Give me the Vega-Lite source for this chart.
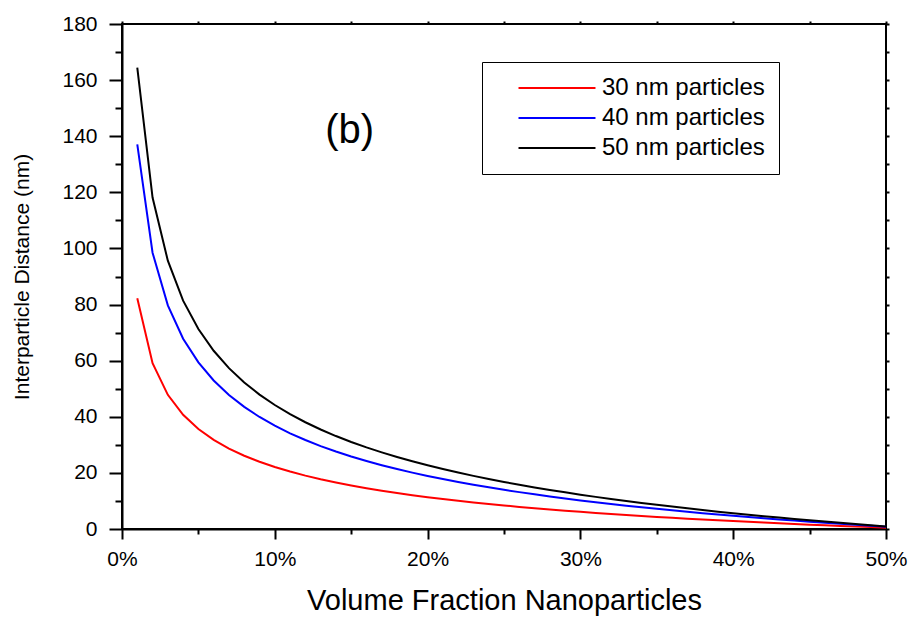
{
  "$schema": "https://vega.github.io/schema/vega-lite/v6.json",
  "width": 764,
  "height": 505,
  "autosize": {"type": "none"},
  "padding": {"left": 122, "top": 24, "right": 29, "bottom": 89},
  "background": "white",
  "config": {
    "view": {"stroke": "black", "strokeWidth": 2},
    "font": "Liberation Sans",
    "axis": {
      "domainColor": "black", "domainWidth": 2, "tickColor": "black", "tickWidth": 2,
      "labelColor": "black", "titleColor": "black", "labelFont": "Liberation Sans",
      "titleFont": "Liberation Sans", "grid": false, "titleFontWeight": "normal"
    }
  },
  "data": {"values": [
    {"v": 1, "30 nm particles": 82.23, "40 nm particles": 137.06, "50 nm particles": 164.47},
    {"v": 2, "30 nm particles": 59.08, "40 nm particles": 98.47, "50 nm particles": 118.16},
    {"v": 3, "30 nm particles": 47.82, "40 nm particles": 79.70, "50 nm particles": 95.63},
    {"v": 4, "30 nm particles": 40.70, "40 nm particles": 67.84, "50 nm particles": 81.40},
    {"v": 5, "30 nm particles": 35.63, "40 nm particles": 59.39, "50 nm particles": 71.27},
    {"v": 6, "30 nm particles": 31.76, "40 nm particles": 52.94, "50 nm particles": 63.53},
    {"v": 7, "30 nm particles": 28.67, "40 nm particles": 47.79, "50 nm particles": 57.34},
    {"v": 8, "30 nm particles": 26.12, "40 nm particles": 43.53, "50 nm particles": 52.23},
    {"v": 9, "30 nm particles": 23.96, "40 nm particles": 39.93, "50 nm particles": 47.91},
    {"v": 10, "30 nm particles": 22.10, "40 nm particles": 36.83, "50 nm particles": 44.20},
    {"v": 11, "30 nm particles": 20.47, "40 nm particles": 34.11, "50 nm particles": 40.93},
    {"v": 12, "30 nm particles": 19.02, "40 nm particles": 31.71, "50 nm particles": 38.05},
    {"v": 13, "30 nm particles": 17.73, "40 nm particles": 29.56, "50 nm particles": 35.47},
    {"v": 14, "30 nm particles": 16.57, "40 nm particles": 27.61, "50 nm particles": 33.13},
    {"v": 15, "30 nm particles": 15.51, "40 nm particles": 25.85, "50 nm particles": 31.01},
    {"v": 16, "30 nm particles": 14.54, "40 nm particles": 24.24, "50 nm particles": 29.08},
    {"v": 17, "30 nm particles": 13.65, "40 nm particles": 22.75, "50 nm particles": 27.30},
    {"v": 18, "30 nm particles": 12.83, "40 nm particles": 21.38, "50 nm particles": 25.65},
    {"v": 19, "30 nm particles": 12.06, "40 nm particles": 20.10, "50 nm particles": 24.12},
    {"v": 20, "30 nm particles": 11.35, "40 nm particles": 18.91, "50 nm particles": 22.69},
    {"v": 21, "30 nm particles": 10.68, "40 nm particles": 17.80, "50 nm particles": 21.36},
    {"v": 22, "30 nm particles": 10.05, "40 nm particles": 16.76, "50 nm particles": 20.11},
    {"v": 23, "30 nm particles": 9.47, "40 nm particles": 15.78, "50 nm particles": 18.93},
    {"v": 24, "30 nm particles": 8.91, "40 nm particles": 14.85, "50 nm particles": 17.82},
    {"v": 25, "30 nm particles": 8.38, "40 nm particles": 13.97, "50 nm particles": 16.76},
    {"v": 26, "30 nm particles": 7.88, "40 nm particles": 13.14, "50 nm particles": 15.77},
    {"v": 27, "30 nm particles": 7.41, "40 nm particles": 12.35, "50 nm particles": 14.82},
    {"v": 28, "30 nm particles": 6.96, "40 nm particles": 11.60, "50 nm particles": 13.92},
    {"v": 29, "30 nm particles": 6.53, "40 nm particles": 10.88, "50 nm particles": 13.06},
    {"v": 30, "30 nm particles": 6.12, "40 nm particles": 10.20, "50 nm particles": 12.24},
    {"v": 31, "30 nm particles": 5.73, "40 nm particles": 9.55, "50 nm particles": 11.45},
    {"v": 32, "30 nm particles": 5.35, "40 nm particles": 8.92, "50 nm particles": 10.70},
    {"v": 33, "30 nm particles": 4.99, "40 nm particles": 8.32, "50 nm particles": 9.98},
    {"v": 34, "30 nm particles": 4.64, "40 nm particles": 7.74, "50 nm particles": 9.29},
    {"v": 35, "30 nm particles": 4.31, "40 nm particles": 7.19, "50 nm particles": 8.62},
    {"v": 36, "30 nm particles": 3.99, "40 nm particles": 6.65, "50 nm particles": 7.98},
    {"v": 37, "30 nm particles": 3.68, "40 nm particles": 6.14, "50 nm particles": 7.36},
    {"v": 38, "30 nm particles": 3.38, "40 nm particles": 5.64, "50 nm particles": 6.77},
    {"v": 39, "30 nm particles": 3.10, "40 nm particles": 5.16, "50 nm particles": 6.19},
    {"v": 40, "30 nm particles": 2.82, "40 nm particles": 4.70, "50 nm particles": 5.63},
    {"v": 41, "30 nm particles": 2.55, "40 nm particles": 4.25, "50 nm particles": 5.09},
    {"v": 42, "30 nm particles": 2.29, "40 nm particles": 3.81, "50 nm particles": 4.57},
    {"v": 43, "30 nm particles": 2.03, "40 nm particles": 3.39, "50 nm particles": 4.07},
    {"v": 44, "30 nm particles": 1.79, "40 nm particles": 2.99, "50 nm particles": 3.58},
    {"v": 45, "30 nm particles": 1.55, "40 nm particles": 2.59, "50 nm particles": 3.11},
    {"v": 46, "30 nm particles": 1.32, "40 nm particles": 2.21, "50 nm particles": 2.65},
    {"v": 47, "30 nm particles": 1.10, "40 nm particles": 1.84, "50 nm particles": 2.20},
    {"v": 48, "30 nm particles": 0.88, "40 nm particles": 1.47, "50 nm particles": 1.76},
    {"v": 49, "30 nm particles": 0.67, "40 nm particles": 1.12, "50 nm particles": 1.34},
    {"v": 50, "30 nm particles": 0.47, "40 nm particles": 0.78, "50 nm particles": 0.93}
  ]},
  "transform": [
    {"fold": ["30 nm particles", "40 nm particles", "50 nm particles"], "as": ["series", "d"]}
  ],
  "layer": [
    {
      "mark": {"type": "line", "strokeWidth": 2},
      "encoding": {
        "x": {
          "field": "v", "type": "quantitative",
          "scale": {"domain": [0, 50], "nice": false, "zero": false},
          "axis": {
            "orient": "bottom", "values": [0, 10, 20, 30, 40, 50],
            "labelExpr": "datum.value + '%'", "labelFlush": false, "tickSize": 10, "labelPadding": 9,
            "labelFontSize": 21, "title": "Volume Fraction Nanoparticles",
            "titleFontSize": 29, "titlePadding": 17
          }
        },
        "y": {
          "field": "d", "type": "quantitative",
          "scale": {"domain": [0, 180], "nice": false},
          "axis": {
            "orient": "left", "values": [0, 20, 40, 60, 80, 100, 120, 140, 160, 180],
            "labelFlush": false, "tickSize": 13, "labelPadding": 12, "labelFontSize": 21,
            "title": "Interparticle Distance (nm)", "titleFontSize": 21, "titlePadding": 29
          }
        },
        "color": {
          "field": "series", "type": "nominal",
          "scale": {
            "domain": ["30 nm particles", "40 nm particles", "50 nm particles"],
            "range": ["#ff0000", "#0000ff", "#000000"]
          },
          "legend": {
            "title": null, "orient": "none", "legendX": 360, "legendY": 38,
            "direction": "vertical", "symbolType": "M-5,0L5,0", "symbolSize": 237,
            "symbolStrokeWidth": 2, "symbolOffset": 49, "labelOffset": 33,
            "labelFontSize": 24, "labelFont": "Liberation Sans", "labelColor": "black",
            "labelLimit": 400, "padding": 14, "rowPadding": 6,
            "strokeColor": "black", "fillColor": "white"
          }
        }
      }
    },
    {
      "mark": {"type": "point", "opacity": 0},
      "encoding": {
        "x": {
          "field": "v", "type": "quantitative",
          "axis": {"orient": "bottom", "values": [5, 15, 25, 35, 45], "tickSize": 5, "labels": false, "domain": false, "title": null}
        },
        "y": {
          "field": "d", "type": "quantitative",
          "axis": {"orient": "left", "values": [10, 30, 50, 70, 90, 110, 130, 150, 170], "tickSize": 7, "labels": false, "domain": false, "title": null}
        }
      }
    },
    {
      "mark": {"type": "point", "opacity": 0},
      "encoding": {
        "x": {
          "field": "v", "type": "quantitative",
          "axis": {"orient": "top", "values": [0, 5, 10, 15, 20, 25, 30, 35, 40, 45, 50], "tickSize": 3, "labels": false, "domain": false, "title": null}
        },
        "y": {
          "field": "d", "type": "quantitative",
          "axis": {"orient": "right", "values": [0, 10, 20, 30, 40, 50, 60, 70, 80, 90, 100, 110, 120, 130, 140, 150, 160, 170, 180], "tickSize": 3, "labels": false, "domain": false, "title": null}
        }
      }
    },
    {
      "data": {"values": [{}]},
      "mark": {"type": "text", "text": "(b)", "fontSize": 40, "font": "Liberation Sans", "align": "center", "baseline": "alphabetic", "color": "black"},
      "encoding": {
        "x": {"datum": 14.9, "type": "quantitative", "axis": null},
        "y": {"datum": 137.5, "type": "quantitative", "axis": null}
      }
    }
  ],
  "resolve": {
    "scale": {"x": "shared", "y": "shared"},
    "axis": {"x": "independent", "y": "independent"}
  }
}
